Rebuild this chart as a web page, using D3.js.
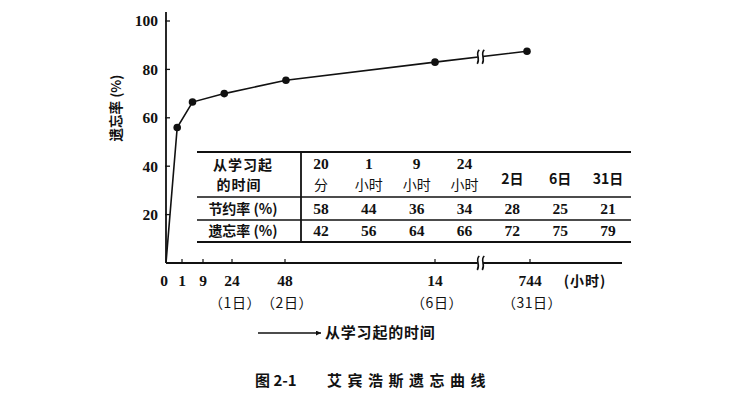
<!DOCTYPE html>
<html><head><meta charset="utf-8">
<script src="https://cdn.jsdelivr.net/npm/d3@7"></script>
<style>
html,body{margin:0;padding:0;background:#fff;}
svg{display:block;}
</style></head>
<body>
<script>
// ---- data ----
const yTicks = [0, 20, 40, 60, 80, 100];
const xTickHours = [0, 1, 9, 24, 48, 144, 744];
const xTickLabels = ["0", "1", "9", "24", "48", "14", "744"];
const xSubHours = [24, 48, 144, 744];
const xSubLabels = ["（1日）", "（2日）", "（6日）", "（31日）"];
const curveHours = [0, 0.7, 5, 20, 48.6, 144, 725];
const curveValues = [0, 56, 66.5, 70, 75.5, 83, 87.5];
const breakHour = 430;
const tableHeadTop = ["20", "1", "9", "24", "2日", "6日", "31日"];
const tableHeadBottom = ["分", "小时", "小时", "小时", "", "", ""];
const savingRate = [58, 44, 36, 34, 28, 25, 21];
const forgetRate = [42, 56, 64, 66, 72, 75, 79];
const rowLabels = ["节约率 (%)", "遗忘率 (%)"];

const W = 731, H = 405;
const svg = d3.select("body").append("svg").attr("width", W).attr("height", H);
const numFont = "'Liberation Serif', 'DejaVu Serif', serif";
const cjkFont = "'Noto Sans CJK SC', 'Noto Sans', sans-serif";

const x = d3.scaleLinear().domain(xTickHours).range([166, 182, 203, 232, 285, 435, 530]);
const y = d3.scaleLinear().domain([0, 100]).range([263, 21]);

// axes lines
svg.append("line").attr("x1", 166).attr("x2", 166).attr("y1", 263).attr("y2", 12)
  .attr("stroke", "#111").attr("stroke-width", 1.8);
svg.append("line").attr("x1", 166).attr("x2", 622).attr("y1", 263).attr("y2", 263)
  .attr("stroke", "#111").attr("stroke-width", 1.8);

// y ticks
const yg = svg.append("g");
yTicks.forEach(t => {
  if (t > 0) yg.append("line").attr("x1", 165).attr("x2", 170).attr("y1", y(t)).attr("y2", y(t))
    .attr("stroke", "#111").attr("stroke-width", 1.3);
  if (t > 0) yg.append("text").attr("x", 158).attr("y", y(t)).attr("dy", "0.35em")
    .attr("text-anchor", "end").attr("font-family", numFont).attr("font-weight", "bold")
    .attr("font-size", 15.5).attr("fill", "#111").text(t);
});
svg.append("text").attr("transform", "translate(116,108) rotate(-90)")
  .attr("text-anchor", "middle").attr("dy", "0.35em")
  .attr("font-family", cjkFont).attr("font-weight", "bold").attr("font-size", 13.5)
  .attr("fill", "#111").text("遗忘率 (%)");

// x ticks
xTickHours.forEach((h, i) => {
  if (h > 0) svg.append("line").attr("x1", x(h)).attr("x2", x(h)).attr("y1", 263).attr("y2", 259)
    .attr("stroke", "#111").attr("stroke-width", 1.2);
  svg.append("text").attr("x", i === 0 ? x(h) - 2 : x(h)).attr("y", 281).attr("dy", "0.35em")
    .attr("text-anchor", "middle").attr("font-family", numFont).attr("font-weight", "bold")
    .attr("font-size", 15.5).attr("fill", "#111").text(xTickLabels[i]);
});
svg.append("text").attr("x", 585).attr("y", 281).attr("dy", "0.35em").attr("text-anchor", "middle")
  .attr("font-family", cjkFont).attr("font-weight", "bold").attr("font-size", 14).attr("letter-spacing", 1)
  .attr("fill", "#111").text("(小时)");
xSubHours.forEach((h, i) => {
  svg.append("text").attr("x", x(h) + (i === 0 ? 3 : 2)).attr("y", 303).attr("dy", "0.35em")
    .attr("text-anchor", "middle").attr("font-family", cjkFont).attr("font-size", 14)
    .attr("letter-spacing", 0.5).attr("fill", "#111").text(xSubLabels[i]);
});

// curve
const pts = curveHours.map((h, i) => [x(h), y(curveValues[i])]);
svg.append("path").attr("d", d3.line()(pts)).attr("fill", "none")
  .attr("stroke", "#111").attr("stroke-width", 1.6);
svg.selectAll("circle.pt").data(pts.slice(1)).enter().append("circle")
  .attr("cx", d => d[0]).attr("cy", d => d[1]).attr("r", 3.8).attr("fill", "#111");

// break symbols
function breakMark(bx, by) {
  const g = svg.append("g").attr("transform", `translate(${bx},${by})`);
  g.append("rect").attr("x", -2.5).attr("y", -3).attr("width", 5).attr("height", 6).attr("fill", "#fff");
  [-2.5, 2.5].forEach(dx => {
    g.append("path").attr("d", `M${dx + 1.5},-7 C${dx - 3},-3 ${dx + 3},1 ${dx - 0.5},7`)
      .attr("fill", "none").attr("stroke", "#111").attr("stroke-width", 1.6);
  });
}
const bxs = x(breakHour);
const p5 = pts[5], p6 = pts[6];
const byc = p5[1] + (p6[1] - p5[1]) * (bxs - p5[0]) / (p6[0] - p5[0]);
breakMark(bxs, byc);
breakMark(bxs, 263);

// table
const colX = d3.scalePoint().domain(d3.range(tableHeadTop.length)).range([321, 608]);
const tl = svg.append("g");
[[152, 2], [197, 1.6], [220, 1.6], [242, 2]].forEach(([ly, sw]) => {
  tl.append("line").attr("x1", 197).attr("x2", 631).attr("y1", ly).attr("y2", ly)
    .attr("stroke", "#111").attr("stroke-width", sw);
});
tl.append("line").attr("x1", 301).attr("x2", 301).attr("y1", 152).attr("y2", 242)
  .attr("stroke", "#111").attr("stroke-width", 1.8);
tl.append("text").attr("x", 243).attr("y", 165).attr("dy", "0.35em").attr("text-anchor", "middle")
  .attr("font-family", cjkFont).attr("font-weight", "bold").attr("font-size", 14).attr("letter-spacing", 1).attr("fill", "#111").text("从学习起");
tl.append("text").attr("x", 239).attr("y", 185).attr("dy", "0.35em").attr("text-anchor", "middle")
  .attr("font-family", cjkFont).attr("font-weight", "bold").attr("font-size", 14).attr("letter-spacing", 1).attr("fill", "#111").text("的时间");
rowLabels.forEach((r, i) => {
  tl.append("text").attr("x", 243).attr("y", i === 0 ? 209 : 231).attr("dy", "0.35em").attr("text-anchor", "middle")
    .attr("font-family", cjkFont).attr("font-weight", "bold").attr("font-size", 14).attr("fill", "#111").text(r);
});
tableHeadTop.forEach((t, i) => {
  const two = tableHeadBottom[i] !== "";
  tl.append("text").attr("x", colX(i)).attr("y", two ? 164 : 179).attr("dy", "0.35em").attr("text-anchor", "middle")
    .attr("font-family", two ? numFont : cjkFont).attr("font-weight", "bold").attr("font-size", two ? 15.5 : 14).attr("fill", "#111").text(t);
  if (two) tl.append("text").attr("x", colX(i)).attr("y", 185).attr("dy", "0.35em").attr("text-anchor", "middle")
    .attr("font-family", cjkFont).attr("font-size", 14).attr("fill", "#111").text(tableHeadBottom[i]);
});
savingRate.forEach((v, i) => {
  tl.append("text").attr("x", colX(i)).attr("y", 209).attr("dy", "0.35em").attr("text-anchor", "middle")
    .attr("font-family", numFont).attr("font-weight", "bold").attr("font-size", 15.5).attr("fill", "#111").text(v);
});
forgetRate.forEach((v, i) => {
  tl.append("text").attr("x", colX(i)).attr("y", 231).attr("dy", "0.35em").attr("text-anchor", "middle")
    .attr("font-family", numFont).attr("font-weight", "bold").attr("font-size", 15.5).attr("fill", "#111").text(v);
});

// arrow + x label
const defs = svg.append("defs");
defs.append("marker").attr("id", "arr").attr("viewBox", "0 0 10 10").attr("refX", 10).attr("refY", 5)
  .attr("markerWidth", 7).attr("markerHeight", 5).attr("orient", "auto").attr("markerUnits", "userSpaceOnUse")
  .append("path").attr("d", "M0,0 L10,5 L0,10 Z").attr("fill", "#111");
svg.append("line").attr("x1", 258).attr("x2", 321).attr("y1", 333).attr("y2", 333)
  .attr("stroke", "#111").attr("stroke-width", 1.3).attr("marker-end", "url(#arr)");
svg.append("text").attr("x", 325).attr("y", 333).attr("dy", "0.35em")
  .attr("font-family", cjkFont).attr("font-weight", "bold").attr("font-size", 15).attr("letter-spacing", 0.8).attr("fill", "#111")
  .text("从学习起的时间");

// title
svg.append("text").attr("x", 255).attr("y", 381).attr("dy", "0.35em")
  .attr("font-family", cjkFont).attr("font-weight", "bold").attr("font-size", 15).attr("fill", "#111")
  .text("图 2-1");
svg.append("text").attr("x", 327).attr("y", 381).attr("dy", "0.35em")
  .attr("font-family", cjkFont).attr("font-weight", "bold").attr("font-size", 15).attr("letter-spacing", 5.5)
  .attr("fill", "#111").text("艾宾浩斯遗忘曲线");
</script>
</body></html>
